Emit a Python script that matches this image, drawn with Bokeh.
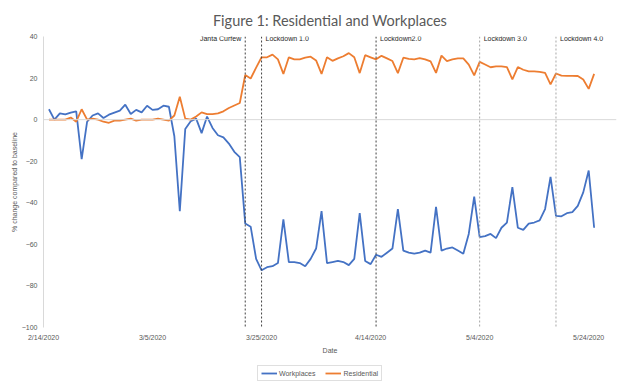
import pandas as pd
from bokeh.plotting import figure
from bokeh.layouts import column
from bokeh.models import Range1d, FixedTicker, Span, Legend, LegendItem, ColumnDataSource
from bokeh.core.properties import value
from bokeh.embed import file_html
from bokeh.resources import INLINE

# ---------------- data ----------------
START_DATE = "2020-02-15"
ORIGIN_DATE = "2020-02-14"

workplaces = [
    5, 0, 3, 2.5, 3.4, 4, -19, -1, 2, 3,
    0.8, 2.4, 3.4, 4.3, 7.2, 2.7, 4.7, 3.5, 6.7, 4.7,
    5, 6.7, 6.2, -8, -44, -4.5, -0.8, 0.5, -6.5, 1.5,
    -4, -7.5, -8.5, -11.5, -15.5, -18, -50, -51.5, -67, -72.5,
    -71, -70.5, -69, -48, -68.5, -68.5, -69, -70.5, -67, -62,
    -44, -69, -68.5, -68, -68.5, -70, -67, -45, -68, -69.5,
    -65, -66, -64, -62, -43, -63, -64, -64.5, -64, -63,
    -64, -42, -63, -62, -61.5, -63, -64.5, -55, -37, -56.5,
    -56, -55, -57, -52, -49.5, -32.5, -52, -53, -50, -49.5,
    -48.5, -43, -27.5, -46.3, -46.5, -45, -44.5, -41.5, -35, -24.5,
    -52,
]

residential = [
    0, 0, 0, 0, 1, -1, 5, 0, 0.5, 0,
    -1, -1.5, -0.5, -0.5, 0, 0.5, -0.5, 0, 0, 0,
    0.5, 0, -0.5, 2, 11, 0.5, 0, 1.5, 3.5, 2.7,
    2.7, 3, 4, 5.6, 6.8, 8, 21.5, 19.8, 25, 30,
    30, 31.3, 29, 22, 30, 29, 29, 29.8, 30.3, 28.5,
    22, 30, 28.3, 29.5, 30.5, 32, 30, 22.4, 31, 30,
    29, 30.7, 29.5, 28.2, 22.4, 29.8, 29.2, 29, 29.6, 29,
    28, 22.5, 30.8, 28.2, 29, 29.5, 29.5, 26.5, 21.3, 27.8,
    26.5, 25.2, 25.6, 25.6, 25.3, 19.4, 25.3, 24, 23.2, 23.2,
    23, 22.5, 17, 22.2, 21.2, 21.1, 21.1, 21, 19.3, 14.8,
    22,
]

event_dates = ["2020-03-22", "2020-03-25", "2020-04-15", "2020-05-04", "2020-05-18"]
event_labels = ["Janta Curfew", "Lockdown 1.0", "Lockdown2.0", "Lockdown 3.0", "Lockdown 4.0"]
event_colors = ["#404040", "#404040", "#404040", "#a6a6a6", "#a6a6a6"]

tick_dates = ["2020-02-14", "2020-03-05", "2020-03-25", "2020-04-14", "2020-05-04", "2020-05-24"]
tick_labels = ["2/14/2020", "3/5/2020", "3/25/2020", "4/14/2020", "5/4/2020", "5/24/2020"]
y_ticks = [-100, -80, -60, -40, -20, 0, 20, 40]

series_names = ["Workplaces", "Residential"]
series_cols = ["work", "res"]
series_colors = ["#4472C4", "#ED7D31"]

# ---------------- derived ----------------
origin = pd.Timestamp(ORIGIN_DATE)
dates = pd.date_range(START_DATE, periods=len(workplaces), freq="D")
x_days = [(d - origin).days for d in dates]
ev_x = [(pd.Timestamp(d) - origin).days for d in event_dates]
tick_x = [(pd.Timestamp(d) - origin).days for d in tick_dates]

src = ColumnDataSource(dict(x=x_days, work=workplaces, res=residential))

GRAY = "#595959"
FONT = "Liberation Sans"

p = figure(width=640, height=360, output_backend="svg", toolbar_location=None,
           x_range=Range1d(0, 105.1), y_range=Range1d(-100, 40),
           min_border_left=43, min_border_right=24, min_border_top=36, min_border_bottom=33)
p.background_fill_color = "white"
p.border_fill_color = "white"
p.outline_line_color = None
p.xgrid.grid_line_color = None
p.ygrid.grid_line_color = None

p.title.text = "Figure 1: Residential and Workplaces"
p.title.align = "center"
p.title.offset = -9
p.title.text_font = "Lato"
p.title.text_font_size = "14.5px"
p.title.text_font_style = "normal"
p.title.text_color = GRAY
p.title.standoff = 16

# axes
p.yaxis.ticker = FixedTicker(ticks=y_ticks)
p.yaxis.axis_line_color = "#d9d9d9"
p.yaxis.major_tick_line_color = None
p.yaxis.minor_tick_line_color = None
p.yaxis.major_tick_out = 0
p.yaxis.major_tick_in = 0
p.yaxis.minor_tick_out = 0
p.yaxis.minor_tick_in = 0
p.yaxis.major_label_text_font = FONT
p.yaxis.major_label_text_font_size = "7px"
p.yaxis.major_label_text_color = GRAY
p.yaxis.major_label_standoff = 6
p.yaxis.axis_label = "% change compared to baseline"
p.yaxis.axis_label_text_font = FONT
p.yaxis.axis_label_text_font_size = "7px"
p.yaxis.axis_label_text_font_style = "normal"
p.yaxis.axis_label_text_color = GRAY
p.yaxis.axis_label_standoff = 1

p.xaxis.ticker = FixedTicker(ticks=tick_x)
p.xaxis.major_label_overrides = {t: l for t, l in zip(tick_x, tick_labels)}
p.xaxis.axis_line_color = None
p.xaxis.major_tick_line_color = None
p.xaxis.minor_tick_line_color = None
p.xaxis.major_tick_out = 0
p.xaxis.major_tick_in = 0
p.xaxis.minor_tick_out = 0
p.xaxis.minor_tick_in = 0
p.xaxis.major_label_text_font = FONT
p.xaxis.major_label_text_font_size = "7px"
p.xaxis.major_label_text_color = GRAY
p.xaxis.major_label_standoff = 6
p.xaxis.axis_label = "Date"
p.xaxis.axis_label_text_font = FONT
p.xaxis.axis_label_text_font_size = "7px"
p.xaxis.axis_label_text_font_style = "normal"
p.xaxis.axis_label_text_color = GRAY
p.xaxis.axis_label_standoff = 3

# zero line
p.add_layout(Span(location=0, dimension="width", line_color="#d9d9d9", line_width=1))

# event lines
for ex, col in zip(ev_x, event_colors):
    p.add_layout(Span(location=ex, dimension="height", line_color=col,
                      line_width=1, line_dash="2 2"))

# series
for col, c in zip(series_cols, series_colors):
    p.line("x", col, source=src, line_color=c, line_width=1.8)

# event labels
lab_src_r = ColumnDataSource(dict(x=ev_x[:1], y=[39], t=event_labels[:1]))
lab_src_l = ColumnDataSource(dict(x=ev_x[1:], y=[39] * (len(ev_x) - 1), t=event_labels[1:]))
p.text("x", "y", text="t", source=lab_src_r, text_align="right", text_baseline="middle",
       x_offset=-4, text_font=value(FONT), text_font_size="7px", text_color="#262626")
p.text("x", "y", text="t", source=lab_src_l, text_align="left", text_baseline="middle",
       x_offset=4, text_font=value(FONT), text_font_size="7px", text_color="#262626")

# ---------------- legend strip below the chart ----------------
# same series drawn with a y-range far above the data, so only the legend shows
lg = figure(width=640, height=24, output_backend="svg", toolbar_location=None,
            x_axis_type=None, y_axis_type=None,
            x_range=Range1d(0, 105.1), y_range=Range1d(1000, 1001),
            min_border_left=43, min_border_right=24, min_border_top=0, min_border_bottom=0)
lg.outline_line_color = None
lg.xgrid.grid_line_color = None
lg.ygrid.grid_line_color = None
lg.background_fill_color = "white"
lg.border_fill_color = "white"
lg_renderers = [lg.line("x", col, source=src, line_color=c, line_width=1.8)
                for col, c in zip(series_cols, series_colors)]

legend = Legend(items=[LegendItem(label=n, renderers=[r]) for n, r in zip(series_names, lg_renderers)],
                orientation="horizontal", location=(214, 3),
                label_text_font=FONT, label_text_font_size="7px", label_text_color=GRAY,
                glyph_width=16, glyph_height=8, label_height=8, label_standoff=2,
                spacing=10, padding=3, margin=0,
                border_line_color="#bfbfbf", border_line_width=1,
                background_fill_color="white", background_fill_alpha=1)
lg.add_layout(legend)

layout = column(p, lg, spacing=0)
open("out.html", "w").write(file_html(layout, INLINE))
